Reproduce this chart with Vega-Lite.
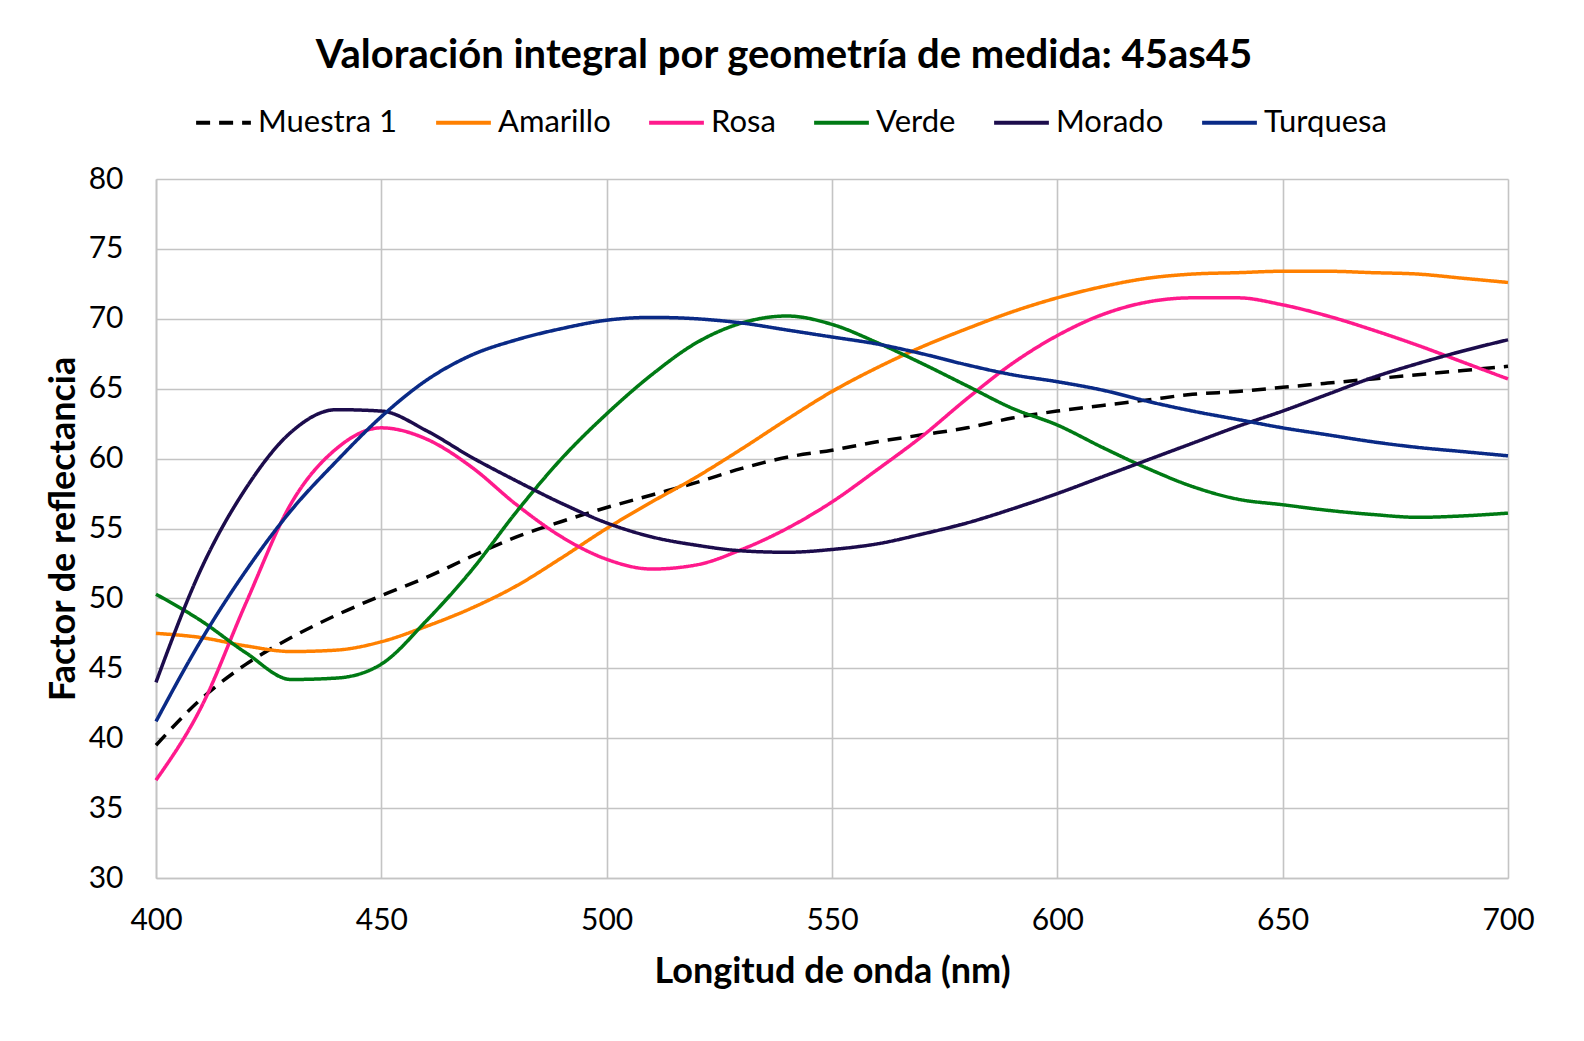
{
  "$schema": "https://vega.github.io/schema/vega-lite/v6.json",
  "description": "Valoracion integral 45as45",
  "width": 1352,
  "height": 699,
  "autosize": {"type": "none"},
  "padding": {"left": 156, "top": 179, "right": 76, "bottom": 163},
  "background": "white",
  "title": {
    "text": "Valoración integral por geometría de medida: 45as45",
    "font": "Lato",
    "fontSize": 40,
    "fontWeight": "bold",
    "color": "black",
    "anchor": "middle",
    "frame": "group",
    "dx": -48,
    "offset": 17
  },
  "data": {
    "values": [
      {"wl": 400, "serie": "Muestra 1", "r": 39.5}, {"wl": 410, "serie": "Muestra 1", "r": 42.8}, {"wl": 420, "serie": "Muestra 1", "r": 45.3}, {"wl": 430, "serie": "Muestra 1", "r": 47.2}, {"wl": 440, "serie": "Muestra 1", "r": 48.8}, {"wl": 450, "serie": "Muestra 1", "r": 50.2}, {"wl": 460, "serie": "Muestra 1", "r": 51.5}, {"wl": 470, "serie": "Muestra 1", "r": 53.0}, {"wl": 480, "serie": "Muestra 1", "r": 54.4}, {"wl": 490, "serie": "Muestra 1", "r": 55.5}, {"wl": 500, "serie": "Muestra 1", "r": 56.5}, {"wl": 510, "serie": "Muestra 1", "r": 57.4}, {"wl": 520, "serie": "Muestra 1", "r": 58.3}, {"wl": 530, "serie": "Muestra 1", "r": 59.3}, {"wl": 540, "serie": "Muestra 1", "r": 60.1}, {"wl": 550, "serie": "Muestra 1", "r": 60.6}, {"wl": 560, "serie": "Muestra 1", "r": 61.2}, {"wl": 570, "serie": "Muestra 1", "r": 61.7}, {"wl": 580, "serie": "Muestra 1", "r": 62.2}, {"wl": 590, "serie": "Muestra 1", "r": 62.9}, {"wl": 600, "serie": "Muestra 1", "r": 63.4}, {"wl": 610, "serie": "Muestra 1", "r": 63.8}, {"wl": 620, "serie": "Muestra 1", "r": 64.2}, {"wl": 630, "serie": "Muestra 1", "r": 64.6}, {"wl": 640, "serie": "Muestra 1", "r": 64.8}, {"wl": 650, "serie": "Muestra 1", "r": 65.1}, {"wl": 660, "serie": "Muestra 1", "r": 65.4}, {"wl": 670, "serie": "Muestra 1", "r": 65.7}, {"wl": 680, "serie": "Muestra 1", "r": 66.0}, {"wl": 690, "serie": "Muestra 1", "r": 66.3}, {"wl": 700, "serie": "Muestra 1", "r": 66.6},

      {"wl": 400, "serie": "Amarillo", "r": 47.5}, {"wl": 410, "serie": "Amarillo", "r": 47.2}, {"wl": 420, "serie": "Amarillo", "r": 46.6}, {"wl": 430, "serie": "Amarillo", "r": 46.2}, {"wl": 440, "serie": "Amarillo", "r": 46.3}, {"wl": 450, "serie": "Amarillo", "r": 46.9}, {"wl": 460, "serie": "Amarillo", "r": 48.0}, {"wl": 470, "serie": "Amarillo", "r": 49.3}, {"wl": 480, "serie": "Amarillo", "r": 50.9}, {"wl": 490, "serie": "Amarillo", "r": 52.9}, {"wl": 500, "serie": "Amarillo", "r": 55.0}, {"wl": 510, "serie": "Amarillo", "r": 56.9}, {"wl": 520, "serie": "Amarillo", "r": 58.7}, {"wl": 530, "serie": "Amarillo", "r": 60.7}, {"wl": 540, "serie": "Amarillo", "r": 62.8}, {"wl": 550, "serie": "Amarillo", "r": 64.8}, {"wl": 560, "serie": "Amarillo", "r": 66.5}, {"wl": 570, "serie": "Amarillo", "r": 68.0}, {"wl": 580, "serie": "Amarillo", "r": 69.3}, {"wl": 590, "serie": "Amarillo", "r": 70.5}, {"wl": 600, "serie": "Amarillo", "r": 71.5}, {"wl": 610, "serie": "Amarillo", "r": 72.3}, {"wl": 620, "serie": "Amarillo", "r": 72.9}, {"wl": 630, "serie": "Amarillo", "r": 73.2}, {"wl": 640, "serie": "Amarillo", "r": 73.3}, {"wl": 650, "serie": "Amarillo", "r": 73.4}, {"wl": 660, "serie": "Amarillo", "r": 73.4}, {"wl": 670, "serie": "Amarillo", "r": 73.3}, {"wl": 680, "serie": "Amarillo", "r": 73.2}, {"wl": 690, "serie": "Amarillo", "r": 72.9}, {"wl": 700, "serie": "Amarillo", "r": 72.6},

      {"wl": 400, "serie": "Rosa", "r": 37.0}, {"wl": 410, "serie": "Rosa", "r": 42.2}, {"wl": 420, "serie": "Rosa", "r": 49.7}, {"wl": 430, "serie": "Rosa", "r": 56.8}, {"wl": 440, "serie": "Rosa", "r": 60.7}, {"wl": 450, "serie": "Rosa", "r": 62.2}, {"wl": 460, "serie": "Rosa", "r": 61.4}, {"wl": 470, "serie": "Rosa", "r": 59.4}, {"wl": 480, "serie": "Rosa", "r": 56.7}, {"wl": 490, "serie": "Rosa", "r": 54.4}, {"wl": 500, "serie": "Rosa", "r": 52.8}, {"wl": 510, "serie": "Rosa", "r": 52.1}, {"wl": 520, "serie": "Rosa", "r": 52.4}, {"wl": 530, "serie": "Rosa", "r": 53.5}, {"wl": 540, "serie": "Rosa", "r": 55.0}, {"wl": 550, "serie": "Rosa", "r": 56.9}, {"wl": 560, "serie": "Rosa", "r": 59.2}, {"wl": 570, "serie": "Rosa", "r": 61.6}, {"wl": 580, "serie": "Rosa", "r": 64.3}, {"wl": 590, "serie": "Rosa", "r": 66.8}, {"wl": 600, "serie": "Rosa", "r": 68.8}, {"wl": 610, "serie": "Rosa", "r": 70.3}, {"wl": 620, "serie": "Rosa", "r": 71.2}, {"wl": 630, "serie": "Rosa", "r": 71.5}, {"wl": 640, "serie": "Rosa", "r": 71.5}, {"wl": 650, "serie": "Rosa", "r": 71.0}, {"wl": 660, "serie": "Rosa", "r": 70.2}, {"wl": 670, "serie": "Rosa", "r": 69.2}, {"wl": 680, "serie": "Rosa", "r": 68.1}, {"wl": 690, "serie": "Rosa", "r": 66.9}, {"wl": 700, "serie": "Rosa", "r": 65.7},

      {"wl": 400, "serie": "Verde", "r": 50.3}, {"wl": 410, "serie": "Verde", "r": 48.4}, {"wl": 420, "serie": "Verde", "r": 46.1}, {"wl": 430, "serie": "Verde", "r": 44.2}, {"wl": 440, "serie": "Verde", "r": 44.3}, {"wl": 450, "serie": "Verde", "r": 45.3}, {"wl": 460, "serie": "Verde", "r": 48.4}, {"wl": 470, "serie": "Verde", "r": 52.0}, {"wl": 480, "serie": "Verde", "r": 56.2}, {"wl": 490, "serie": "Verde", "r": 60.0}, {"wl": 500, "serie": "Verde", "r": 63.2}, {"wl": 510, "serie": "Verde", "r": 66.0}, {"wl": 520, "serie": "Verde", "r": 68.3}, {"wl": 530, "serie": "Verde", "r": 69.7}, {"wl": 540, "serie": "Verde", "r": 70.2}, {"wl": 550, "serie": "Verde", "r": 69.6}, {"wl": 560, "serie": "Verde", "r": 68.3}, {"wl": 570, "serie": "Verde", "r": 66.8}, {"wl": 580, "serie": "Verde", "r": 65.2}, {"wl": 590, "serie": "Verde", "r": 63.6}, {"wl": 600, "serie": "Verde", "r": 62.4}, {"wl": 610, "serie": "Verde", "r": 60.8}, {"wl": 620, "serie": "Verde", "r": 59.3}, {"wl": 630, "serie": "Verde", "r": 58.0}, {"wl": 640, "serie": "Verde", "r": 57.1}, {"wl": 650, "serie": "Verde", "r": 56.7}, {"wl": 660, "serie": "Verde", "r": 56.3}, {"wl": 670, "serie": "Verde", "r": 56.0}, {"wl": 680, "serie": "Verde", "r": 55.8}, {"wl": 690, "serie": "Verde", "r": 55.9}, {"wl": 700, "serie": "Verde", "r": 56.1},

      {"wl": 400, "serie": "Morado", "r": 44.0}, {"wl": 410, "serie": "Morado", "r": 52.1}, {"wl": 420, "serie": "Morado", "r": 57.9}, {"wl": 430, "serie": "Morado", "r": 61.9}, {"wl": 440, "serie": "Morado", "r": 63.5}, {"wl": 450, "serie": "Morado", "r": 63.4}, {"wl": 460, "serie": "Morado", "r": 62.0}, {"wl": 470, "serie": "Morado", "r": 60.1}, {"wl": 480, "serie": "Morado", "r": 58.4}, {"wl": 490, "serie": "Morado", "r": 56.8}, {"wl": 500, "serie": "Morado", "r": 55.4}, {"wl": 510, "serie": "Morado", "r": 54.4}, {"wl": 520, "serie": "Morado", "r": 53.8}, {"wl": 530, "serie": "Morado", "r": 53.4}, {"wl": 540, "serie": "Morado", "r": 53.3}, {"wl": 550, "serie": "Morado", "r": 53.5}, {"wl": 560, "serie": "Morado", "r": 53.9}, {"wl": 570, "serie": "Morado", "r": 54.6}, {"wl": 580, "serie": "Morado", "r": 55.4}, {"wl": 590, "serie": "Morado", "r": 56.4}, {"wl": 600, "serie": "Morado", "r": 57.5}, {"wl": 610, "serie": "Morado", "r": 58.7}, {"wl": 620, "serie": "Morado", "r": 59.9}, {"wl": 630, "serie": "Morado", "r": 61.1}, {"wl": 640, "serie": "Morado", "r": 62.3}, {"wl": 650, "serie": "Morado", "r": 63.4}, {"wl": 660, "serie": "Morado", "r": 64.6}, {"wl": 670, "serie": "Morado", "r": 65.8}, {"wl": 680, "serie": "Morado", "r": 66.8}, {"wl": 690, "serie": "Morado", "r": 67.7}, {"wl": 700, "serie": "Morado", "r": 68.5},

      {"wl": 400, "serie": "Turquesa", "r": 41.2}, {"wl": 410, "serie": "Turquesa", "r": 47.0}, {"wl": 420, "serie": "Turquesa", "r": 52.0}, {"wl": 430, "serie": "Turquesa", "r": 56.3}, {"wl": 440, "serie": "Turquesa", "r": 59.8}, {"wl": 450, "serie": "Turquesa", "r": 63.0}, {"wl": 460, "serie": "Turquesa", "r": 65.6}, {"wl": 470, "serie": "Turquesa", "r": 67.4}, {"wl": 480, "serie": "Turquesa", "r": 68.5}, {"wl": 490, "serie": "Turquesa", "r": 69.3}, {"wl": 500, "serie": "Turquesa", "r": 69.9}, {"wl": 510, "serie": "Turquesa", "r": 70.1}, {"wl": 520, "serie": "Turquesa", "r": 70.0}, {"wl": 530, "serie": "Turquesa", "r": 69.7}, {"wl": 540, "serie": "Turquesa", "r": 69.2}, {"wl": 550, "serie": "Turquesa", "r": 68.7}, {"wl": 560, "serie": "Turquesa", "r": 68.2}, {"wl": 570, "serie": "Turquesa", "r": 67.5}, {"wl": 580, "serie": "Turquesa", "r": 66.7}, {"wl": 590, "serie": "Turquesa", "r": 66.0}, {"wl": 600, "serie": "Turquesa", "r": 65.5}, {"wl": 610, "serie": "Turquesa", "r": 64.9}, {"wl": 620, "serie": "Turquesa", "r": 64.1}, {"wl": 630, "serie": "Turquesa", "r": 63.4}, {"wl": 640, "serie": "Turquesa", "r": 62.8}, {"wl": 650, "serie": "Turquesa", "r": 62.2}, {"wl": 660, "serie": "Turquesa", "r": 61.7}, {"wl": 670, "serie": "Turquesa", "r": 61.2}, {"wl": 680, "serie": "Turquesa", "r": 60.8}, {"wl": 690, "serie": "Turquesa", "r": 60.5}, {"wl": 700, "serie": "Turquesa", "r": 60.2}
    ]
  },
  "mark": {"type": "line", "interpolate": "monotone", "strokeWidth": 3.5},
  "encoding": {
    "x": {
      "field": "wl",
      "type": "quantitative",
      "scale": {"domain": [400, 700], "nice": false},
      "axis": {
        "title": "Longitud de onda (nm)",
        "values": [400, 450, 500, 550, 600, 650, 700],
        "ticks": false,
        "labelFlush": false,
        "labelPadding": 27,
        "titlePadding": 19
      }
    },
    "y": {
      "field": "r",
      "type": "quantitative",
      "scale": {"domain": [30, 80], "nice": false},
      "axis": {
        "title": "Factor de reflectancia",
        "values": [30, 35, 40, 45, 50, 55, 60, 65, 70, 75, 80],
        "ticks": false,
        "labelFlush": false,
        "labelPadding": 33,
        "titlePadding": 6
      }
    },
    "color": {
      "field": "serie",
      "type": "nominal",
      "sort": ["Muestra 1", "Amarillo", "Rosa", "Verde", "Morado", "Turquesa"],
      "scale": {
        "domain": ["Muestra 1", "Amarillo", "Rosa", "Verde", "Morado", "Turquesa"],
        "range": ["#000000", "#ff8000", "#ff1a8c", "#007a14", "#1c0c4c", "#0a2a86"]
      },
      "legend": {"title": null}
    },
    "strokeDash": {
      "field": "serie",
      "type": "nominal",
      "sort": ["Muestra 1", "Amarillo", "Rosa", "Verde", "Morado", "Turquesa"],
      "scale": {
        "domain": ["Muestra 1", "Amarillo", "Rosa", "Verde", "Morado", "Turquesa"],
        "range": [[14, 9], [1, 0], [1, 0], [1, 0], [1, 0], [1, 0]]
      },
      "legend": {"title": null}
    }
  },
  "config": {
    "font": "Lato",
    "view": {"stroke": null},
    "axis": {
      "labelFont": "Lato",
      "labelFontSize": 30,
      "labelColor": "black",
      "titleFont": "Lato",
      "titleFontSize": 36,
      "titleFontWeight": "bold",
      "titleColor": "black",
      "gridColor": "#c4c4c4",
      "gridWidth": 1.6,
      "gridOpacity": 1,
      "domainColor": "#c4c4c4",
      "domainWidth": 1.6
    },
    "legend": {
      "orient": "none",
      "legendX": 38,
      "legendY": -86,
      "direction": "horizontal",
      "columns": 6,
      "labelFont": "Lato",
      "labelFontSize": 31,
      "labelColor": "black",
      "symbolType": "stroke",
      "symbolSize": 3000,
      "symbolStrokeWidth": 4,
      "labelOffset": 5,
      "columnPadding": 30
    }
  }
}
